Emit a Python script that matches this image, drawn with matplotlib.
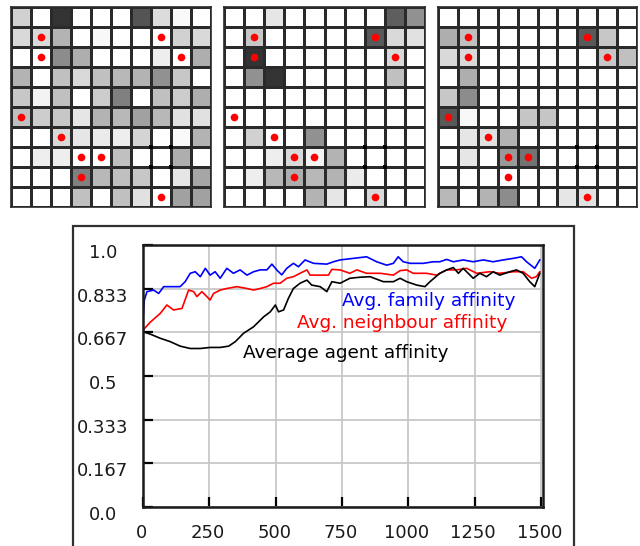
import numpy as np
import matplotlib
matplotlib.use("Agg")
import matplotlib.pyplot as plt
from matplotlib.patches import Rectangle
import matplotlib.transforms as mtrans

# ---------------- grid data (gray level, 1 = white) ----------------
grid_a = [
    [0.82, 1.00, 0.20, 1.00, 1.00, 1.00, 0.33, 0.86, 0.98, 1.00],
    [0.85, 0.85, 0.70, 1.00, 0.97, 1.00, 1.00, 1.00, 0.82, 0.85],
    [1.00, 1.00, 0.55, 0.68, 1.00, 1.00, 1.00, 0.93, 1.00, 0.68],
    [0.70, 1.00, 0.75, 0.85, 0.75, 0.72, 0.70, 0.57, 0.78, 1.00],
    [0.78, 0.95, 0.75, 1.00, 0.80, 0.50, 1.00, 0.75, 0.80, 0.68],
    [0.75, 0.80, 0.78, 0.90, 0.70, 0.72, 0.63, 0.72, 0.88, 0.88],
    [1.00, 1.00, 0.85, 0.90, 0.92, 0.93, 0.83, 1.00, 0.98, 0.70],
    [1.00, 0.93, 0.93, 1.00, 1.00, 0.75, 1.00, 1.00, 0.68, 1.00],
    [1.00, 1.00, 1.00, 0.50, 0.72, 0.75, 0.78, 1.00, 0.90, 0.65],
    [1.00, 1.00, 1.00, 0.75, 1.00, 0.75, 0.88, 1.00, 0.63, 0.63],
]
grid_b = [
    [1.00, 1.00, 0.90, 1.00, 1.00, 1.00, 1.00, 1.00, 0.37, 0.57],
    [1.00, 0.78, 1.00, 1.00, 1.00, 1.00, 1.00, 0.35, 0.85, 0.88],
    [1.00, 0.20, 1.00, 1.00, 1.00, 1.00, 1.00, 1.00, 0.85, 1.00],
    [1.00, 0.57, 0.20, 1.00, 1.00, 1.00, 1.00, 1.00, 0.75, 1.00],
    [1.00, 1.00, 1.00, 1.00, 1.00, 1.00, 1.00, 1.00, 1.00, 1.00],
    [1.00, 1.00, 1.00, 1.00, 1.00, 1.00, 1.00, 1.00, 1.00, 1.00],
    [1.00, 0.82, 1.00, 1.00, 0.57, 1.00, 1.00, 1.00, 1.00, 1.00],
    [1.00, 1.00, 0.93, 0.85, 0.95, 0.70, 1.00, 1.00, 1.00, 1.00],
    [1.00, 0.93, 0.72, 0.68, 0.72, 0.70, 0.92, 1.00, 1.00, 1.00],
    [1.00, 1.00, 1.00, 1.00, 0.70, 0.90, 1.00, 0.85, 1.00, 1.00],
]
grid_c = [
    [1.00, 1.00, 1.00, 1.00, 1.00, 1.00, 1.00, 1.00, 1.00, 1.00],
    [0.68, 0.75, 1.00, 1.00, 1.00, 1.00, 1.00, 0.35, 0.78, 1.00],
    [0.85, 0.85, 1.00, 1.00, 1.00, 1.00, 1.00, 1.00, 0.78, 0.75],
    [1.00, 0.68, 1.00, 1.00, 1.00, 1.00, 1.00, 1.00, 1.00, 1.00],
    [0.78, 0.55, 1.00, 1.00, 1.00, 1.00, 1.00, 1.00, 1.00, 1.00],
    [0.35, 0.97, 1.00, 1.00, 0.77, 0.77, 1.00, 1.00, 1.00, 1.00],
    [1.00, 0.90, 0.88, 0.70, 1.00, 1.00, 1.00, 1.00, 1.00, 1.00],
    [1.00, 0.90, 1.00, 0.60, 0.45, 1.00, 1.00, 1.00, 1.00, 1.00],
    [1.00, 1.00, 1.00, 1.00, 1.00, 1.00, 1.00, 1.00, 1.00, 1.00],
    [0.72, 1.00, 0.70, 0.55, 1.00, 1.00, 0.90, 0.88, 1.00, 1.00],
]
# red agents (row, col) and black marker corners (row-edge, col-edge)
agent_rows = [1, 2, 1, 2, 5, 6, 7, 7, 8, 9]
agent_cols = [1, 1, 7, 8, 0, 2, 3, 4, 3, 7]
corner_rows = [7, 7, 8, 8]
corner_cols = [7, 8, 7, 8]

# ---------------- line chart data ----------------
fam_t = [0, 5, 15, 40, 59, 78, 140, 159, 178, 197, 216, 235, 253, 272, 291, 316, 341, 366,
         392, 417, 442, 467, 486, 504, 523, 542, 567, 586, 611, 643, 693, 718, 743, 793, 843,
         881, 919, 944, 962, 981, 1007, 1057, 1094, 1119, 1145, 1170, 1207, 1245, 1283, 1320,
         1358, 1396, 1427, 1446, 1477, 1496]
fam_v = [0.713, 0.79, 0.822, 0.828, 0.815, 0.841, 0.841, 0.86, 0.892, 0.898, 0.879, 0.911,
         0.885, 0.898, 0.873, 0.911, 0.892, 0.905, 0.885, 0.898, 0.905, 0.905, 0.927, 0.905,
         0.886, 0.911, 0.93, 0.917, 0.943, 0.93, 0.927, 0.936, 0.943, 0.949, 0.955, 0.936,
         0.923, 0.930, 0.955, 0.936, 0.930, 0.930, 0.936, 0.936, 0.945, 0.936, 0.943, 0.936,
         0.943, 0.936, 0.943, 0.949, 0.955, 0.936, 0.911, 0.943]
nbr_t = [0, 27, 65, 90, 115, 147, 172, 191, 203, 222, 235, 253, 266, 291, 316, 354, 392, 417,
         442, 467, 492, 517, 542, 567, 592, 618, 630, 668, 699, 712, 743, 780, 806, 843, 894,
         944, 969, 994, 1019, 1069, 1107, 1145, 1182, 1220, 1258, 1308, 1345, 1396, 1433,
         1465, 1483, 1496]
nbr_v = [0.675, 0.705, 0.739, 0.771, 0.752, 0.758, 0.828, 0.822, 0.803, 0.822, 0.809, 0.790,
         0.815, 0.828, 0.834, 0.841, 0.834, 0.828, 0.834, 0.841, 0.854, 0.854, 0.873, 0.879,
         0.892, 0.905, 0.885, 0.885, 0.885, 0.907, 0.905, 0.892, 0.905, 0.892, 0.892, 0.885,
         0.902, 0.905, 0.892, 0.892, 0.885, 0.905, 0.905, 0.911, 0.892, 0.898, 0.892, 0.898,
         0.898, 0.873, 0.879, 0.898]
agt_t = [0, 27, 65, 103, 140, 178, 216, 253, 291, 323, 348, 379, 417, 455, 480, 499, 511, 530,
         548, 567, 592, 618, 636, 668, 693, 712, 743, 780, 818, 856, 906, 944, 969, 994, 1032,
         1063, 1082, 1119, 1145, 1170, 1189, 1207, 1226, 1245, 1270, 1295, 1320, 1345, 1383,
         1408, 1433, 1458, 1477, 1496]
agt_v = [0.669, 0.660, 0.644, 0.631, 0.614, 0.605, 0.605, 0.609, 0.609, 0.614, 0.631, 0.663,
         0.688, 0.726, 0.745, 0.771, 0.745, 0.752, 0.796, 0.834, 0.854, 0.866, 0.847, 0.841,
         0.822, 0.860, 0.854, 0.873, 0.877, 0.879, 0.860, 0.860, 0.873, 0.860, 0.847, 0.841,
         0.860, 0.892, 0.905, 0.914, 0.892, 0.911, 0.892, 0.873, 0.892, 0.879, 0.898, 0.885,
         0.898, 0.905, 0.892, 0.860, 0.841, 0.892]

x_ticks = [0, 250, 500, 750, 1000, 1250, 1500]
x_labels = ["0", "250", "500", "750", "1000", "1250", "1500"]
y_ticks = [0, 1/6, 2/6, 3/6, 4/6, 5/6, 1.0]
y_labels = ["0.0", "0.167", "0.333", "0.5", "0.667", "0.833", "1.0"]

W, H = 640, 546
fig = plt.figure(figsize=(W / 100, H / 100), dpi=100)
fig.patch.set_facecolor("white")


def fbox(x0, y0, x1, y1):
    return [x0 / W, 1 - y1 / H, (x1 - x0) / W, (y1 - y0) / H]


grid_boxes = [(11, 7, 211, 207), (224, 7, 425, 207), (438, 7, 637, 207)]
for g, bx in zip([grid_a, grid_b, grid_c], grid_boxes):
    ax = fig.add_axes(fbox(*bx))
    arr = np.array(g)
    ax.pcolormesh(np.arange(11), np.arange(11), arr, cmap="gray", vmin=0, vmax=1,
                  edgecolors="#2a2a2a", linewidth=1.0)
    ax.plot(np.array(agent_cols) + 0.5, np.array(agent_rows) + 0.5, "o",
            color="#ff0000", markersize=5.5, markeredgewidth=0, zorder=5)
    ax.plot(corner_cols, corner_rows, "s", color="black", markersize=3.2,
            markeredgewidth=0, zorder=6, clip_on=False)
    ax.set_xlim(0, 10)
    ax.set_ylim(10, 0)
    ax.set_xticks([])
    ax.set_yticks([])
    for s in ax.spines.values():
        s.set_linewidth(1.2)
        s.set_color("#2a2a2a")

# outer frame of the chart panel
fig.patches.append(Rectangle((73 / W, -0.02), (574 - 73) / W, (546 - 226) / H + 0.02,
                             transform=fig.transFigure, fill=False, lw=1.6,
                             ec="#303030"))

ax = fig.add_axes(fbox(143, 245, 543, 507))
ax.plot(fam_t, fam_v, color="#0000ff", lw=1.2)
ax.plot(nbr_t, nbr_v, color="#ff0000", lw=1.2)
ax.plot(agt_t, agt_v, color="black", lw=1.2)
ax.set_xlim(0, 1508)
ax.set_ylim(0, 1.0)
ax.set_xticks(x_ticks)
ax.set_xticklabels(x_labels)
ax.set_yticks(y_ticks)
ax.set_yticklabels(y_labels)
ax.grid(True, color="#c8c8c8", lw=1.3)
ax.tick_params(axis="both", direction="in", length=7, width=1.6, color="black",
               labelsize=13, colors="#1a1a1a")
ax.tick_params(axis="y", pad=29)
ax.tick_params(axis="x", pad=12)
for lab in ax.get_yticklabels():
    lab.set_horizontalalignment("center")
    lab.set_transform(lab.get_transform() +
                      mtrans.ScaledTranslation(0, -0.06, fig.dpi_scale_trans))
for lab in ax.get_xticklabels():
    lab.set_transform(lab.get_transform() +
                      mtrans.ScaledTranslation(-0.015, 0, fig.dpi_scale_trans))
for s in ax.spines.values():
    s.set_linewidth(1.8)
    s.set_color("#1a1a1a")

ax.text(749, 0.787, "Avg. family affinity", color="#0000ff", fontsize=13.3,
        va="center", ha="left")
ax.text(580, 0.701, "Avg. neighbour affinity", color="#ff0000", fontsize=13.3,
        va="center", ha="left")
ax.text(376, 0.586, "Average agent affinity", color="black", fontsize=13.3,
        va="center", ha="left")

fig.savefig("out.png", dpi=100)
